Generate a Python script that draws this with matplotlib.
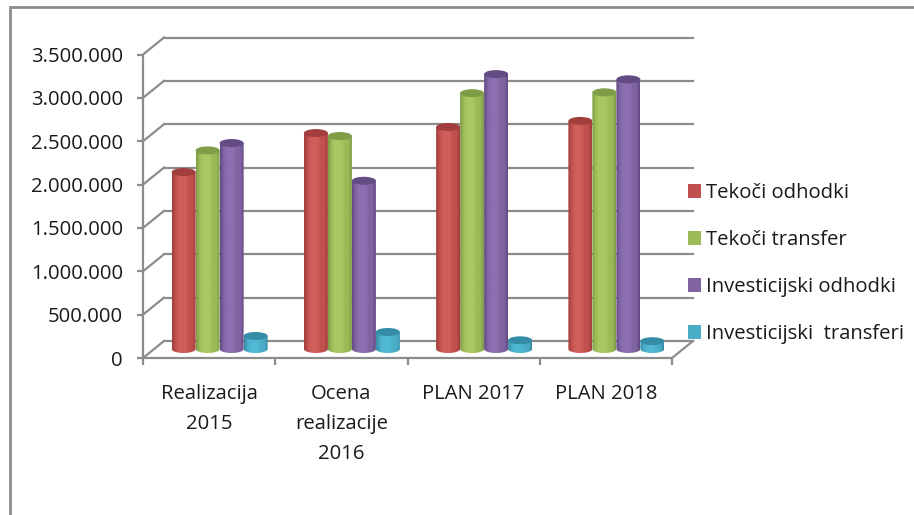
import numpy as np
import matplotlib
matplotlib.use("Agg")
import matplotlib.pyplot as plt
from matplotlib.patches import Ellipse, Patch, PathPatch, Rectangle
from matplotlib.path import Path
from matplotlib.colors import LinearSegmentedColormap
from matplotlib.ticker import FuncFormatter

plt.rcParams["font.family"] = ["Open Sans", "DejaVu Sans"]

categories = ["Realizacija\n2015", "Ocena\nrealizacije\n2016", "PLAN 2017", "PLAN 2018"]
series_names = ["Tekoči odhodki", "Tekoči transfer", "Investicijski odhodki", "Investicijski  transferi"]
tekoci_odhodki = [2040000, 2490000, 2560000, 2630000]
tekoci_transfer = [2290000, 2456000, 2950000, 2960000]
inv_odhodki = [2375000, 1940000, 3170000, 3110000]
inv_transferi = [150000, 196000, 100000, 90000]
yticks = [0, 500000, 1000000, 1500000, 2000000, 2500000, 3000000, 3500000]

base_colors = ["#C0504D", "#9BBB59", "#8064A2", "#4BACC6"]
light_colors = ["#CF5E5B", "#A8C962", "#8C6FB0", "#50B8D4"]
dark_colors = ["#A23F3C", "#7F9C46", "#634B84", "#358CA6"]
grid_color = "#8C8C8C"
text_size = 14.6

W, H = 914, 515
fig = plt.figure(figsize=(W / 100, H / 100), dpi=100)
# front plane of the fake 3d box, in pixels
left, right, bottom, top = 143, 672, 358, 54.5
ax = fig.add_axes([left / W, 1 - bottom / H, (right - left) / W, (bottom - top) / H])
ax.set_xlim(0, 4)
ax.set_ylim(0, 3500000)
ax.patch.set_visible(False)
for s in ax.spines.values():
    s.set_visible(False)

px = 4 / (right - left)
py = 3500000 / (bottom - top)
depth_x, depth_y = 21 * px, 17 * py

# back wall gridlines and the side wall diagonals
for v in yticks:
    ax.plot([0, depth_x], [v, v + depth_y], color=grid_color, lw=1.6, clip_on=False, zorder=1)
    ax.plot([depth_x, 4 + depth_x], [v + depth_y, v + depth_y], color=grid_color, lw=1.6, clip_on=False, zorder=1)
ax.plot([0, 4, 4 + depth_x], [0, 0, depth_y], color=grid_color, lw=1.6, clip_on=False, zorder=1)
ax.plot([0, 0], [0, 3500000], color=grid_color, lw=1.6, clip_on=False, zorder=1)

ax.set_yticks(yticks)
ax.yaxis.set_major_formatter(FuncFormatter(lambda v, p: f"{int(v):,}".replace(",", ".")))
ax.set_xticks(np.arange(4) + 0.5)
ax.set_xticklabels(categories, linespacing=1.67, va="top")
ax.set_xticks(np.arange(5), minor=True)
ax.tick_params(axis="x", which="major", length=0, pad=19, labelsize=text_size, labelcolor="#1a1a1a")
ax.tick_params(axis="x", which="minor", length=5, width=1.6, color=grid_color)
ax.tick_params(axis="y", length=4.5, width=1.6, color=grid_color, pad=10, labelsize=text_size, labelcolor="#1a1a1a")

# cylinders, sitting in the middle of the depth
cmaps = [LinearSegmentedColormap.from_list("c", [d, b, l, l, l, b, b, d]) for d, b, l in zip(dark_colors, base_colors, light_colors)]
bar_w = 24 * px
ell_h = 8 * py
mid_x = depth_x / 2
mid_y = 9 * py
theta = np.linspace(np.pi, 2 * np.pi, 40)
values = [tekoci_odhodki, tekoci_transfer, inv_odhodki, inv_transferi]
for s, vals in enumerate(values):
    for c, v in enumerate(vals):
        x0 = c + 0.5 - 2 * bar_w + s * bar_w + mid_x
        x1 = x0 + bar_w
        xc = (x0 + x1) / 2
        arc_x = xc + bar_w / 2 * np.cos(theta)
        arc_y = mid_y + ell_h / 2 * np.sin(theta)
        verts = [(x0, v + mid_y)] + list(zip(arc_x, arc_y)) + [(x1, v + mid_y), (x0, v + mid_y)]
        clip = PathPatch(Path(verts), transform=ax.transData, fc="none", ec="none")
        ax.add_patch(clip)
        im = ax.imshow(np.linspace(0, 1, 32).reshape(1, -1), cmap=cmaps[s], extent=[x0, x1, 0, v + mid_y], aspect="auto", zorder=3 + s, clip_on=True)
        im.set_clip_path(clip)
        ax.add_patch(Ellipse((xc, v + mid_y), bar_w, ell_h, fc=dark_colors[s], ec="none", zorder=3.5 + s))
ax.set_xlim(0, 4)
ax.set_ylim(0, 3500000)

handles = [Patch(fc=c, ec="none") for c in base_colors]
fig.legend(handles, series_names, loc="upper left", bbox_to_anchor=(688 / W, 1 - 183.5 / H), frameon=False, fontsize=text_size,
           handlelength=0.62, handleheight=0.68, handletextpad=0.26, labelspacing=1.32, labelcolor="#1a1a1a", borderpad=0, borderaxespad=0)

# outer frame of the pasted chart
fig.add_artist(Rectangle((10 / W, -0.1), 1.2, 1.1 - 7 / H, transform=fig.transFigure, fc="none", ec=grid_color, lw=2))

fig.savefig("out.png", dpi=100)
